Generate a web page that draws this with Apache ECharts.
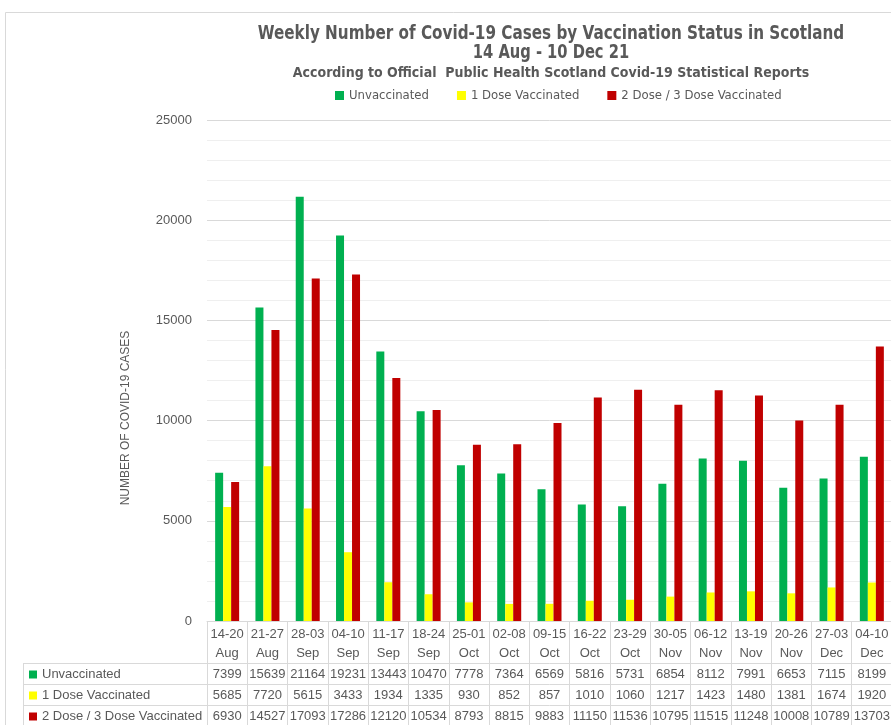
<!DOCTYPE html>
<html>
<head>
<meta charset="utf-8">
<script src="https://cdn.jsdelivr.net/npm/echarts@6/dist/echarts.min.js"></script>
<style>
  html, body { margin: 0; padding: 0; background: #fff; overflow: hidden; }
  #main { width: 900px; height: 725px; }
</style>
</head>
<body>
<div id="main"></div>
<script>
// week ranges and their month
const weekDays = ['14-20', '21-27', '28-03', '04-10', '11-17', '18-24', '25-01', '02-08', '09-15',
  '16-22', '23-29', '30-05', '06-12', '13-19', '20-26', '27-03', '04-10']
const weekMonths = ['Aug', 'Aug', 'Sep', 'Sep', 'Sep', 'Sep', 'Oct', 'Oct', 'Oct',
  'Oct', 'Oct', 'Nov', 'Nov', 'Nov', 'Nov', 'Dec', 'Dec']

const unvaccinated = [7399, 15639, 21164, 19231, 13443, 10470, 7778, 7364, 6569, 5816, 5731, 6854, 8112, 7991, 6653, 7115, 8199]
const oneDose = [5685, 7720, 5615, 3433, 1934, 1335, 930, 852, 857, 1010, 1060, 1217, 1423, 1480, 1381, 1674, 1920]
const twoDose = [6930, 14527, 17093, 17286, 12120, 10534, 8793, 8815, 9883, 11150, 11536, 10795, 11515, 11248, 10008, 10789, 13703]

const seriesNames = ['Unvaccinated', '1 Dose Vaccinated', '2 Dose / 3 Dose Vaccinated']
const seriesColors = ['#00B050', '#FFFF00', '#C00000']
const yMax = 25000
const yMajor = 5000

const textGray = '#595959'
const borderGray = '#d9d9d9'
const narrow = '"Liberation Sans Narrow", "DejaVu Sans Condensed", Arial, sans-serif'

const categories = weekDays.map((d, i) => d + '\n' + weekMonths[i])
const rows = [unvaccinated, oneDose, twoDose]

// one extra x axis per table row, stacked under the category labels
const tableAxes = rows.map((row, i) => ({
  type: 'category',
  position: 'bottom',
  offset: 42 + i * 21,
  data: row.map(String),
  axisLine: { show: true, lineStyle: { color: borderGray } },
  axisTick: { show: true, length: 21, interval: 0, lineStyle: { color: borderGray } },
  axisLabel: { interval: 0, margin: 5, fontSize: 13, color: textGray, fontFamily: 'Arial, sans-serif' },
  splitLine: { show: false }
}))

const chart = echarts.init(document.getElementById('main'))

const option = {
  animation: false,
  backgroundColor: '#fff',
  graphic: [
    { type: 'rect', shape: { x: 5.5, y: 12.5, width: 1000, height: 1000 }, style: { fill: 'none', stroke: borderGray, lineWidth: 1 } },
    { type: 'text', x: 551, y: 34, scaleX: 0.89, style: { text: 'Weekly Number of Covid-19 Cases by Vaccination Status in Scotland', textAlign: 'center', textVerticalAlign: 'middle', font: 'bold 19px ' + narrow, fill: textGray } },
    { type: 'text', x: 551, y: 53, scaleX: 0.86, style: { text: '14 Aug - 10 Dec 21', textAlign: 'center', textVerticalAlign: 'middle', font: 'bold 19px ' + narrow, fill: textGray } },
    { type: 'text', x: 551, y: 73, style: { text: 'According to Official  Public Health Scotland Covid-19 Statistical Reports', textAlign: 'center', textVerticalAlign: 'middle', font: 'bold 14px ' + narrow, fill: textGray } },
    { type: 'text', x: 126, y: 418, rotation: Math.PI / 2, style: { text: 'NUMBER OF COVID-19 CASES', textAlign: 'center', textVerticalAlign: 'middle', font: '12px Arial, sans-serif', fill: textGray } },
    // left part of the data table
    { type: 'line', shape: { x1: 23, y1: 663.5, x2: 207, y2: 663.5 }, style: { stroke: borderGray } },
    { type: 'line', shape: { x1: 23, y1: 684.5, x2: 207, y2: 684.5 }, style: { stroke: borderGray } },
    { type: 'line', shape: { x1: 23, y1: 705.5, x2: 207, y2: 705.5 }, style: { stroke: borderGray } },
    { type: 'line', shape: { x1: 23.5, y1: 663, x2: 23.5, y2: 730 }, style: { stroke: borderGray } }
  ],
  legend: [
    {
      left: 330, top: 84,
      itemWidth: 9, itemHeight: 9, itemGap: 28, icon: 'rect',
      textStyle: { fontSize: 13, color: textGray, fontFamily: narrow },
      data: seriesNames
    },
    {
      orient: 'vertical', left: 29, top: 664, height: 90, padding: 0,
      itemWidth: 8, itemHeight: 8, itemGap: 0, icon: 'rect',
      textStyle: { fontSize: 13, color: textGray, lineHeight: 21, fontFamily: 'Arial, sans-serif' },
      data: seriesNames
    }
  ],
  grid: { left: 207, top: 120, right: 8, bottom: 104 },
  xAxis: [
    {
      type: 'category',
      data: categories,
      axisLine: { show: true, lineStyle: { color: borderGray } },
      axisTick: { show: true, length: 42, interval: 0, lineStyle: { color: borderGray } },
      axisLabel: { interval: 0, margin: 4, fontSize: 13, lineHeight: 19, color: textGray, fontFamily: 'Arial, sans-serif' }
    }
  ].concat(tableAxes),
  yAxis: {
    type: 'value',
    min: 0,
    max: yMax,
    interval: 1000,
    axisLine: { show: false },
    axisTick: { show: false },
    axisLabel: {
      margin: 15, fontSize: 13, color: textGray, fontFamily: 'Arial, sans-serif',
      formatter: v => (v % yMajor === 0 ? String(v) : '')
    },
    splitLine: { lineStyle: { color: [borderGray, '#efefef', '#efefef', '#efefef', '#efefef'] } }
  },
  series: rows.map((row, i) => ({
    name: seriesNames[i],
    type: 'bar',
    barWidth: 8,
    barGap: 0,
    itemStyle: { color: seriesColors[i] },
    data: row
  }))
}

chart.setOption(option)
</script>
</body>
</html>
